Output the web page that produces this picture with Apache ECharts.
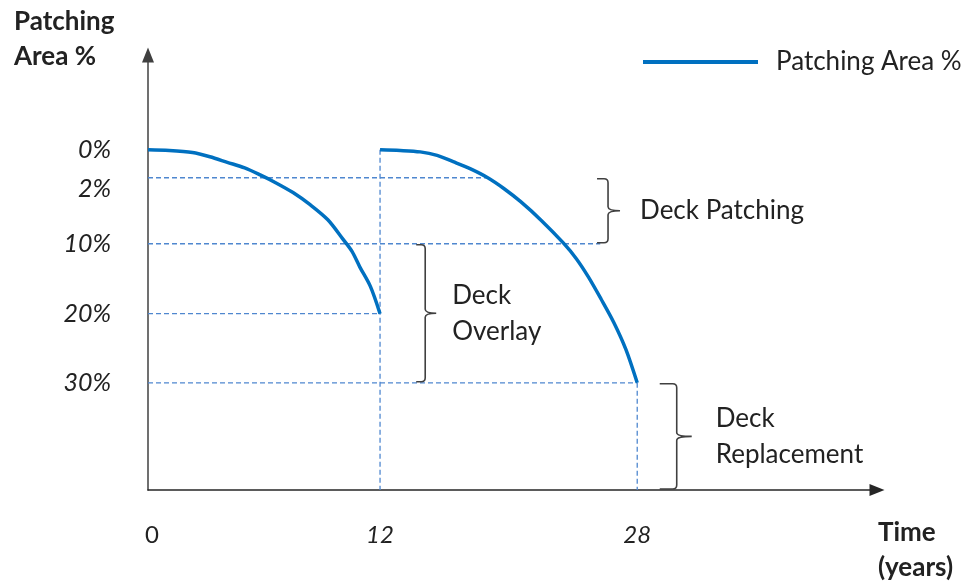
<!DOCTYPE html>
<html>
<head>
<meta charset="utf-8">
<script src="https://cdn.jsdelivr.net/npm/echarts@6/dist/echarts.min.js"></script>
<style>
  html, body { margin: 0; padding: 0; background: #fff; }
  #chart { width: 964px; height: 584px; }
</style>
</head>
<body>
<div id="chart"></div>
<script>
// Tick values
const yearTicks = [0, 12, 28];
const pctTicks = [0, 2, 10, 20, 30];

// Patching area (%) against time (years): original deck, then after the overlay
const curveFirst = [
  [0, 0], [1.1, 0.05], [2.3, 0.2], [3.2, 0.5], [4.1, 0.9], [5.0, 1.3], [5.8, 1.8], [6.6, 2.6],
  [7.5, 3.8], [8.4, 5.3], [9.3, 7.1], [10.1, 9.5], [10.55, 11.1], [10.95, 13.3], [11.5, 16.1], [12, 20]
];
const curveSecond = [
  [12, 0], [13.25, 0.05], [14.5, 0.15], [15.55, 0.4], [16.55, 0.85], [17.6, 1.35], [18.7, 2.0],
  [19.7, 3.3], [20.75, 4.9], [22.05, 7.2], [23.4, 9.9], [24.2, 12.1], [24.95, 14.7], [25.75, 17.9],
  [26.55, 21.3], [27.3, 25.2], [28, 30]
];

// Dashed guides: patching level (%) drawn from year 0 to the given year
const guideLevels = [2, 10, 20, 30];
const guideLevelEnds = [18.7, 25.7, 12, 28];
// Dashed drops: year, from the given level (%) down to the time axis
const guideYears = [12, 28];
const guideYearStarts = [0, 30];

// Maintenance action by patching level
const bandNames = ['Deck Patching', 'Deck\nOverlay', 'Deck\nReplacement'];
const bandFrom = [2, 10, 30];
const bandTo = [10, 30, null];

// ---- layout ----
// schematic axes: where each tick sits along its axis (axis units)
const yearSlots = [0, 12, 25.3];
const pctSlots = [0, 3.6, 12.1, 21.1, 30];
const pctLabelDrop = [0, 1.4, 0, 0, 0];      // the 2 % label sits a little under its guide
const X_MAX = 37.7;
const Y_ZERO = 43.8, Y_MAX = 56;             // 0 % sits Y_ZERO units above the time axis
const bandAt = [25.5, 14.25, 29.4];          // brace position, in years
const bandHook = [11, 9, 17];
const bandTip = [12, 11, 15];
const bandGap = [20, 16, 24];

const FONT = 'Lato, "Open Sans", sans-serif';
const INK = '#222';
const BLUE = '#0070C0';
const GUIDE = '#4F87CF';

function interp(v, ticks, slots) {
  let i = 1;
  while (i < ticks.length - 1 && v > ticks[i]) i++;
  const t0 = ticks[i - 1], t1 = ticks[i];
  return slots[i - 1] + (v - t0) * (slots[i] - slots[i - 1]) / (t1 - t0);
}
const xs = t => interp(t, yearTicks, yearSlots);
const ys = p => Y_ZERO - interp(p, pctTicks, pctSlots);
const toChart = pts => pts.map(([t, p]) => [xs(t), ys(p)]);

const xLabelAt = yearTicks.map(xs);
const yLabelAt = pctTicks.map((p, i) => ys(p) - pctLabelDrop[i]);
function nearest(v, list) {
  let best = 0;
  list.forEach((w, i) => { if (Math.abs(w - v) < Math.abs(list[best] - v)) best = i; });
  return best;
}

const guideStyle = { color: GUIDE, width: 1.3, type: [5, 3] };
const guideSeries = [];
guideLevels.forEach((p, i) => {
  guideSeries.push({
    type: 'line', silent: true, showSymbol: false, z: 1,
    lineStyle: guideStyle,
    data: toChart([[0, p], [guideLevelEnds[i], p]])
  });
});
guideYears.forEach((t, i) => {
  guideSeries.push({
    type: 'line', silent: true, showSymbol: false, z: 1,
    lineStyle: guideStyle,
    data: [[xs(t), ys(guideYearStarts[i])], [xs(t), 0]]
  });
});

const curveSeries = [curveFirst, curveSecond].map(c => ({
  name: 'Patching Area %',
  type: 'line', silent: true, showSymbol: false,
  smooth: 0.3, z: 3,
  lineStyle: { color: BLUE, width: 3.5 },
  itemStyle: { color: BLUE },
  data: toChart(c)
}));

const braceSeries = {
  type: 'custom', silent: true, clip: false, z: 2,
  encode: { x: 0, y: [1, 2] },
  data: bandNames.map((n, i) => [xs(bandAt[i]), ys(bandFrom[i]), bandTo[i] == null ? 0 : ys(bandTo[i]), i]),
  renderItem(params, api) {
    const i = api.value(3);
    const a = api.coord([api.value(0), api.value(1)]);
    const b = api.coord([api.value(0), api.value(2)]);
    const x0 = a[0], x1 = x0 + bandHook[i], x2 = x1 + bandTip[i];
    const y0 = a[1] + 1, y1 = b[1] - 1, ym = (y0 + y1) / 2, r = 4;
    const d = `M${x0},${y0} L${x1 - r},${y0} Q${x1},${y0} ${x1},${y0 + r} L${x1},${ym - r} Q${x1},${ym} ${x2},${ym} ` +
      `M${x2},${ym} Q${x1},${ym} ${x1},${ym + r} L${x1},${y1 - r} Q${x1},${y1} ${x1 - r},${y1} L${x0},${y1}`;
    return {
      type: 'group',
      children: [
        { type: 'path', shape: { pathData: d }, style: { fill: 'none', stroke: '#404040', lineWidth: 1.6 } },
        { type: 'text', style: {
            text: bandNames[i], x: x2 + bandGap[i], y: ym,
            verticalAlign: 'middle', align: 'left',
            font: `26px ${FONT}`, lineHeight: 36, fill: INK
        } }
      ]
    };
  }
};

const chart = echarts.init(document.getElementById('chart'), null, { renderer: 'canvas' });
chart.setOption({
  animation: false,
  backgroundColor: '#fff',
  grid: { left: 148, top: 55, right: 87, bottom: 94, containLabel: false },
  legend: {
    data: ['Patching Area %'],
    left: 643, top: 49, padding: 0,
    icon: 'rect', itemWidth: 115, itemHeight: 4,
    selectedMode: false,
    textStyle: { fontFamily: FONT, fontSize: 26, color: INK, padding: [0, 0, 0, 13] }
  },
  xAxis: {
    type: 'value', min: 0, max: X_MAX,
    splitLine: { show: false },
    axisTick: { show: false },
    axisLine: { onZero: false, lineStyle: { color: '#262626', width: 1.5 }, symbol: ['none', 'triangle'], symbolSize: [12, 15] },
    axisLabel: {
      customValues: xLabelAt,
      showMinLabel: true, showMaxLabel: true,
      margin: 30,
      formatter: v => {
        const i = nearest(v, xLabelAt);
        return i === 0 ? `{up|${yearTicks[i]}}` : `{it|${yearTicks[i]}}`;
      },
      rich: {
        up: { fontFamily: FONT, fontSize: 24, color: INK, lineHeight: 30, padding: [0, 0, 0, 8] },
        it: { fontFamily: FONT, fontSize: 24, fontStyle: 'italic', color: INK, lineHeight: 30 }
      }
    }
  },
  yAxis: {
    type: 'value', min: 0, max: Y_MAX,
    splitLine: { show: false },
    axisTick: { show: false },
    axisLine: { onZero: false, lineStyle: { color: '#404040', width: 1.5 }, symbol: ['none', 'triangle'], symbolSize: [12, 15] },
    axisLabel: {
      customValues: yLabelAt,
      showMinLabel: true, showMaxLabel: true,
      margin: 37,
      fontFamily: FONT, fontSize: 25, fontStyle: 'italic', color: INK, lineHeight: 26,
      formatter: v => pctTicks[nearest(v, yLabelAt)] + '%'
    }
  },
  graphic: [
    { type: 'text', x: 14, y: 39.5, style: { text: 'Patching\nArea %', font: `bold 26px ${FONT}`, lineHeight: 35, fill: INK, verticalAlign: 'middle' } },
    { type: 'text', x: 878, y: 550.5, style: { text: 'Time\n(years)', font: `bold 26px ${FONT}`, lineHeight: 35, fill: INK, verticalAlign: 'middle' } }
  ],
  series: [...guideSeries, braceSeries, ...curveSeries]
});
</script>
</body>
</html>
